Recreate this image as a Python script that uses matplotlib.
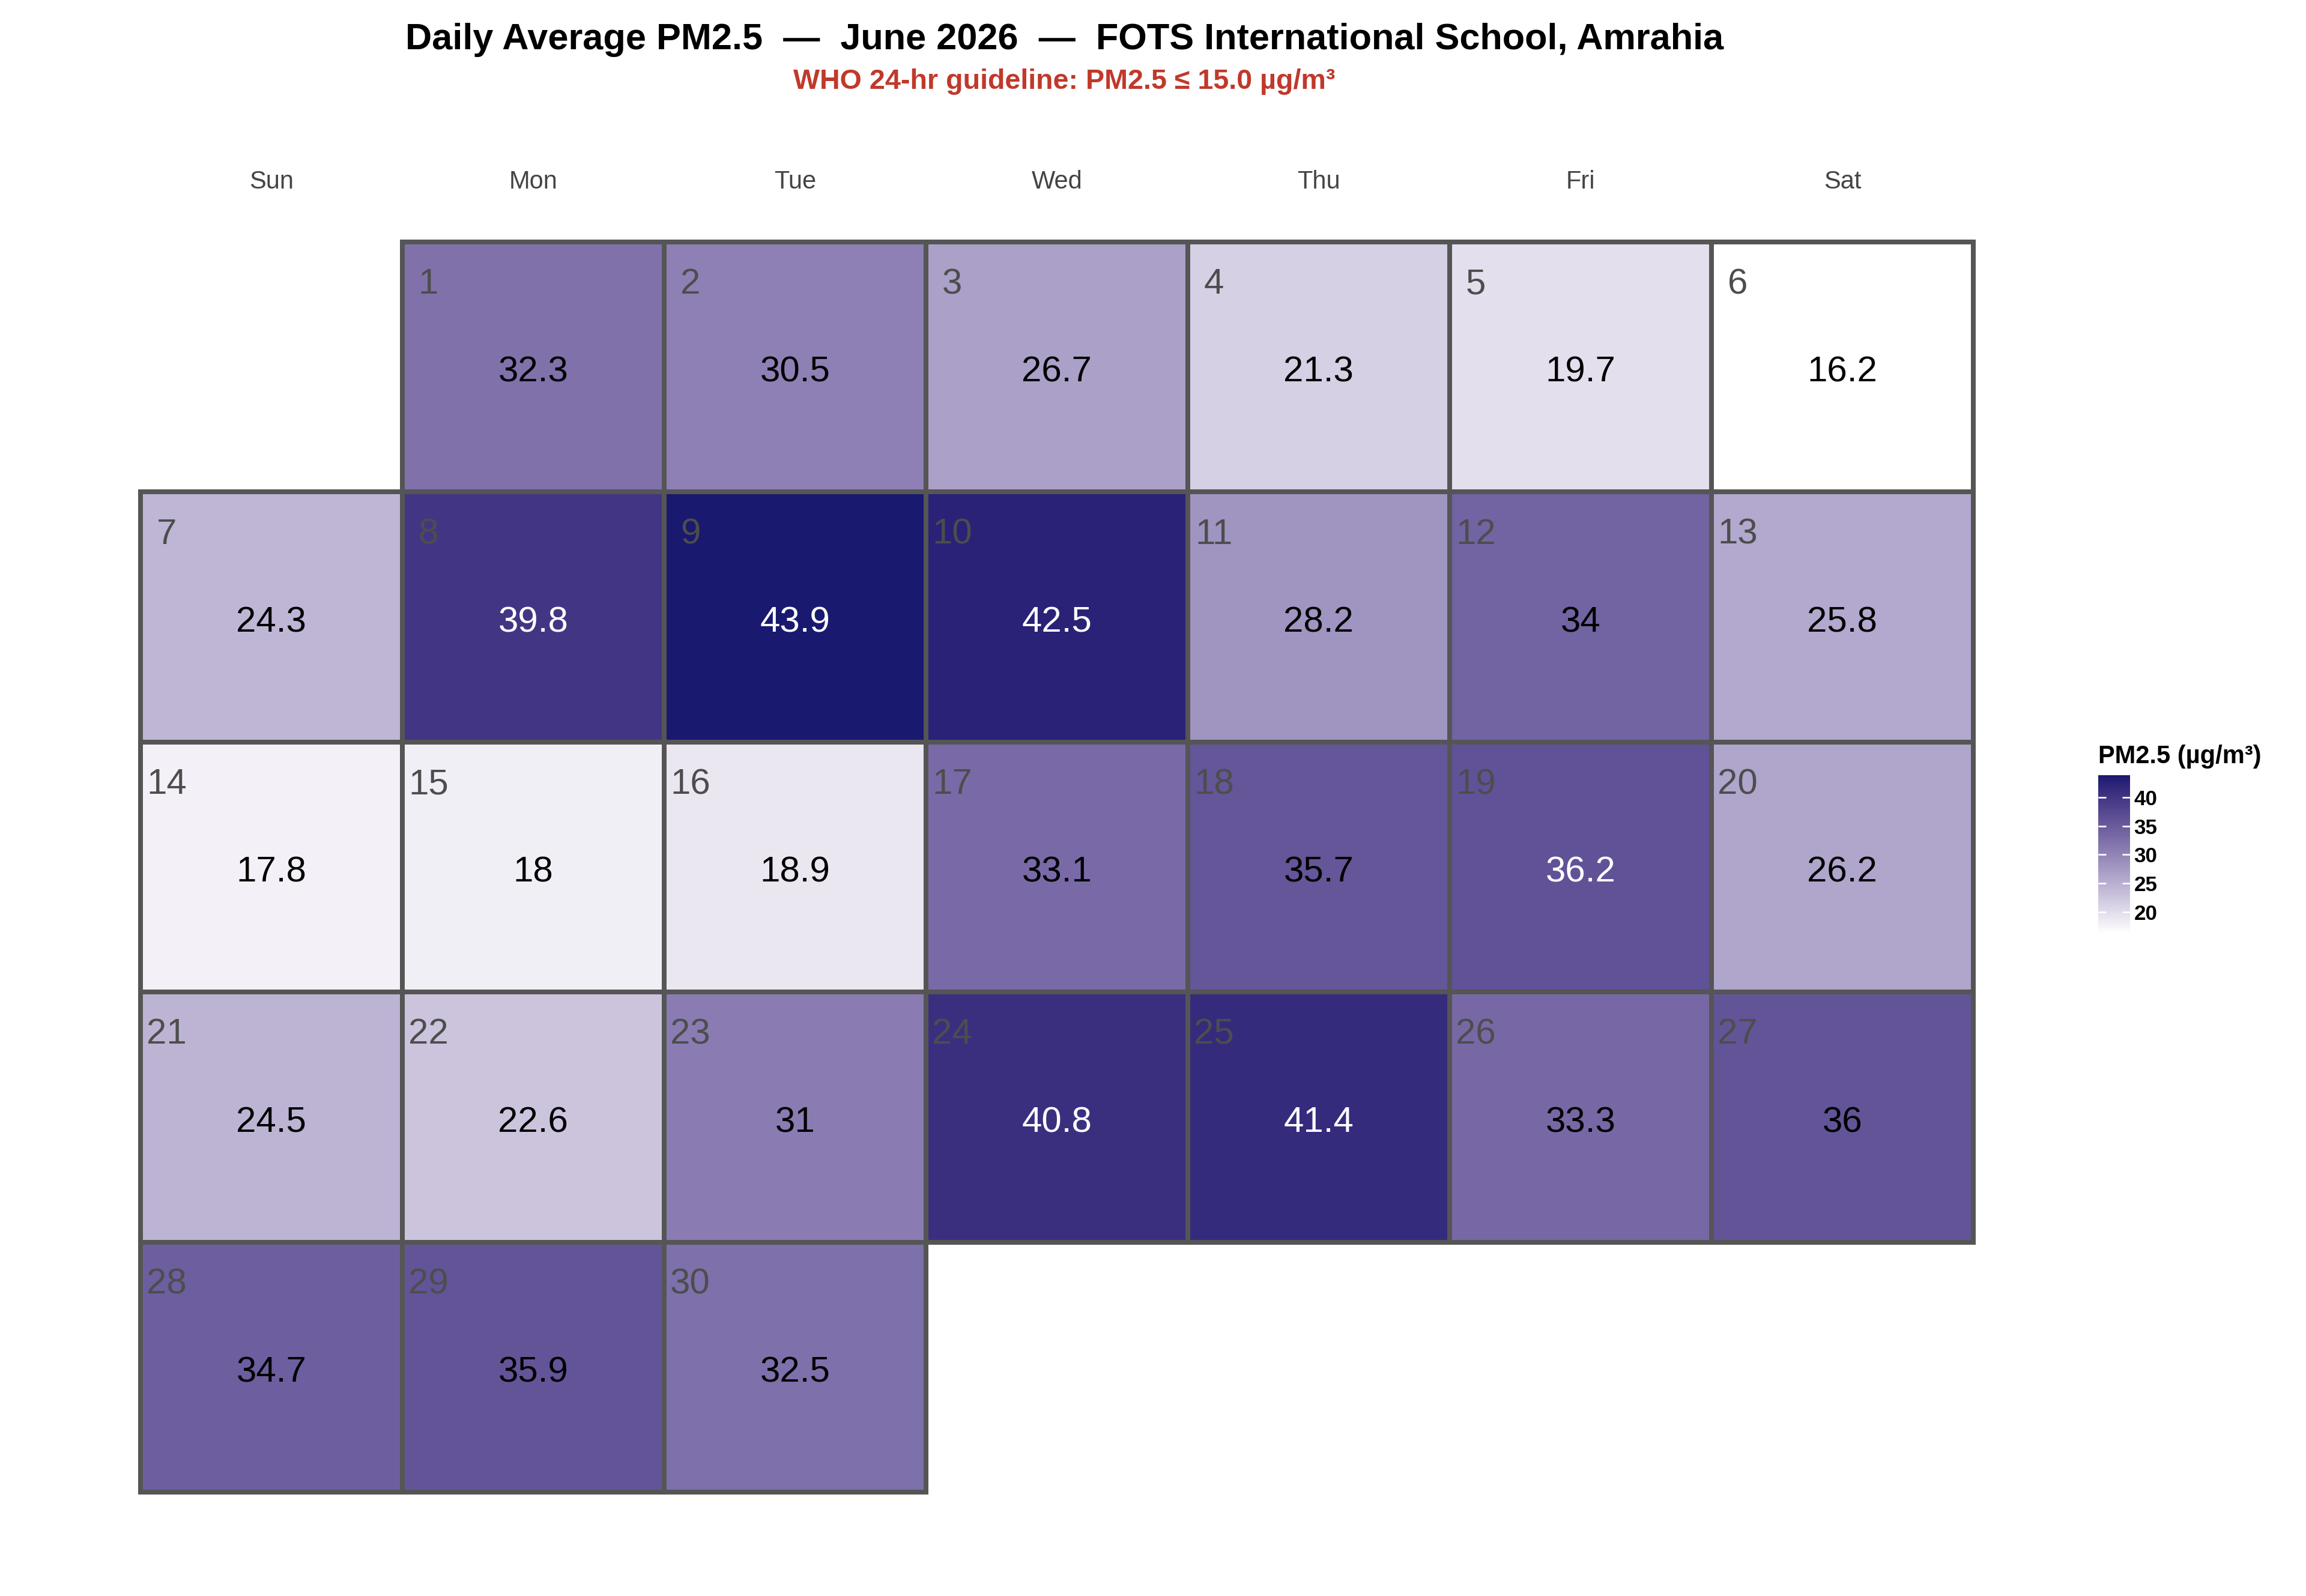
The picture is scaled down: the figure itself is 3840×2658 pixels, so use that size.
import numpy as np
import matplotlib
matplotlib.use("Agg")
from matplotlib import pyplot as plt
from matplotlib.colors import LinearSegmentedColormap, Normalize, to_rgb
from matplotlib.patches import Rectangle
from matplotlib.cm import ScalarMappable

plt.rcParams['font.family'] = ['Liberation Sans', 'DejaVu Sans']

days = list(range(1, 31))
pm25 = [32.3, 30.5, 26.7, 21.3, 19.7, 16.2, 24.3, 39.8, 43.9, 42.5,
        28.2, 34, 25.8, 17.8, 18, 18.9, 33.1, 35.7, 36.2, 26.2,
        24.5, 22.6, 31, 40.8, 41.4, 33.3, 36, 34.7, 35.9, 32.5]
weekdays = ["Sun", "Mon", "Tue", "Wed", "Thu", "Fri", "Sat"]
first_weekday = 1   # 1 June 2026 is a Monday
cbar_ticks = [20, 25, 30, 35, 40]
white_above = 36.1


# white -> midnightblue, interpolated in Lab like ggplot's scale_fill_gradient
def srgb_to_lab(c):
    c = np.asarray(c, float)
    lin = np.where(c <= 0.04045, c / 12.92, ((c + 0.055) / 1.055) ** 2.4)
    m = np.array([[0.4124, 0.3576, 0.1805],
                  [0.2126, 0.7152, 0.0722],
                  [0.0193, 0.1192, 0.9505]])
    xyz = m @ lin / np.array([0.95047, 1.0, 1.08883])
    f = np.where(xyz > 0.008856, np.cbrt(xyz), 7.787 * xyz + 16 / 116)
    return np.array([116 * f[1] - 16, 500 * (f[0] - f[1]), 200 * (f[1] - f[2])])


def lab_to_srgb(lab):
    L, a, b = lab
    fy = (L + 16) / 116
    fx = fy + a / 500
    fz = fy - b / 200
    f = np.array([fx, fy, fz])
    xyz = np.where(f ** 3 > 0.008856, f ** 3, (f - 16 / 116) / 7.787)
    xyz = xyz * np.array([0.95047, 1.0, 1.08883])
    minv = np.array([[3.2406, -1.5372, -0.4986],
                     [-0.9689, 1.8758, 0.0415],
                     [0.0557, -0.2040, 1.0570]])
    lin = minv @ xyz
    c = np.where(lin <= 0.0031308, 12.92 * lin, 1.055 * np.clip(lin, 0, None) ** (1 / 2.4) - 0.055)
    return np.clip(c, 0, 1)


lo = srgb_to_lab(to_rgb("white"))
hi = srgb_to_lab(to_rgb("#191970"))
cols = [lab_to_srgb(lo + t * (hi - lo)) for t in np.linspace(0, 1, 256)]
cmap = LinearSegmentedColormap.from_list("pm", cols)
norm = Normalize(min(pm25), max(pm25))

fig = plt.figure(figsize=(16, 11.075), dpi=240)
ax = fig.add_axes([0.0609, 0.0651, 0.7948, 0.7833])
ax.set_xlim(0.5, 7.5)
ax.set_ylim(5.5, 0.5)
ax.axis("off")

for d, v in zip(days, pm25):
    k = d - 1 + first_weekday
    x, y = k % 7 + 1, k // 7 + 1
    ax.add_patch(Rectangle((x - 0.5, y - 0.5), 1, 1, facecolor=cmap(norm(v)),
                           edgecolor="#555555", linewidth=2.4, clip_on=False))
    ax.text(x, y + 0.022, f"{v:g}", ha="center", va="center", fontsize=18,
            color="white" if v > white_above else "black")
    ax.text(x - 0.4, y - 0.33, str(d), ha="center", va="center",
            fontsize=18, color="#4d4d4d")

for i, name in enumerate(weekdays):
    ax.text(i + 1, 0.26, name, ha="center", va="center", fontsize=12.5,
            color="#444444", clip_on=False)

fig.text(0.4615, 0.975, "Daily Average PM2.5  \u2014  June 2026  \u2014  FOTS International School, Amrahia",
         ha="center", va="center", fontsize=18.4, fontweight="bold")
fig.text(0.4615, 0.949, "WHO 24-hr guideline: PM2.5 \u2264 15.0 \u00b5g/m\u00b3",
         ha="center", va="center", fontsize=14, fontweight="bold", color="#c0392b")

cax = fig.add_axes([0.9099, 0.415, 0.0138, 0.0993])
cb = fig.colorbar(ScalarMappable(norm=norm, cmap=cmap), cax=cax, ticks=cbar_ticks)
cb.outline.set_visible(False)
cax.tick_params(axis="y", direction="in", length=4, width=0.8, color="white",
                left=True, right=True, labelsize=10.5, pad=2)
for t in cax.get_yticklabels():
    t.set_fontweight("bold")
fig.text(0.9099, 0.522, "PM2.5 (\u00b5g/m\u00b3)", ha="left", va="baseline",
         fontsize=12.5, fontweight="bold")

fig.savefig("out.png", dpi=240)
